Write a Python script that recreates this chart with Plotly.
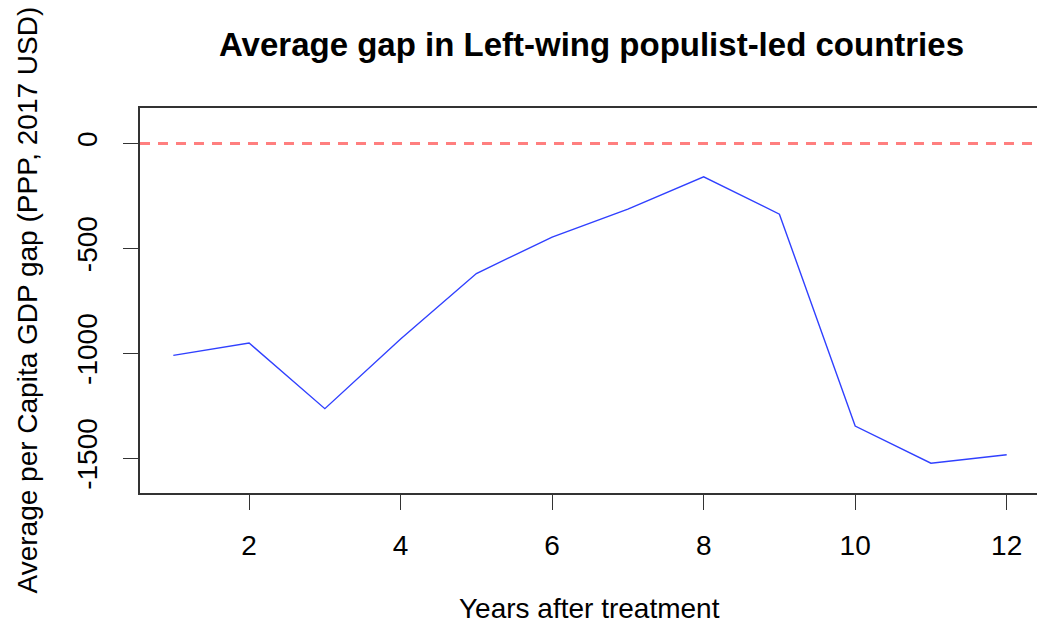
import plotly.graph_objects as go

# Average per-capita GDP gap by year after treatment
years = [1, 2, 3, 4, 5, 6, 7, 8, 9, 10, 11, 12]
avg_gap = [-1010, -951, -1264, -932, -620, -446, -313, -159, -337, -1347, -1524, -1484]

x_ticks = [2, 4, 6, 8, 10, 12]
y_ticks = [-1500, -1000, -500, 0]
y_tick_labels = ["-1500", "-1000", "-500", "0"]

FONT = "Liberation Sans, Arial, Helvetica, sans-serif"
W, H = 1037, 628
ML, MR, MT, MB = 140, 0, 108, 135
plot_w = W - ML - MR
plot_h = H - MT - MB

fig = go.Figure()

fig.add_trace(go.Scatter(
    x=years, y=avg_gap, mode="lines",
    line=dict(color="#3040ff", width=1.4),
    showlegend=False, hoverinfo="x+y",
))

# reference line at zero
fig.add_shape(
    type="line", xref="paper", yref="y", x0=0, x1=1, y0=0, y1=0,
    line=dict(color="#ff7f7f", width=3, dash="10px,8px"),
)

# axis titles
fig.add_annotation(
    text="Years after treatment", xref="paper", yref="paper",
    x=(589 - ML) / plot_w, y=(H - MB - 608) / plot_h,
    xanchor="center", yanchor="middle", showarrow=False,
    font=dict(size=28, family=FONT, color="black"),
)
fig.add_annotation(
    text="Average per Capita GDP gap (PPP, 2017 USD)", xref="paper", yref="paper",
    x=(27 - ML) / plot_w, y=0.5, textangle=-90,
    xanchor="center", yanchor="middle", showarrow=False,
    font=dict(size=28, family=FONT, color="black"),
)

fig.update_layout(
    width=W, height=H,
    margin=dict(l=ML, r=MR, t=MT, b=MB),
    paper_bgcolor="white", plot_bgcolor="white",
    font=dict(family=FONT, color="black", size=28),
    title=dict(
        text="<b>Average gap in Left-wing populist-led countries</b>",
        x=591.5 / W, xanchor="center", y=1 - 44 / H, yanchor="middle",
        font=dict(size=33, family=FONT),
    ),
)

fig.update_xaxes(
    range=[0.56, 12.40],
    tickvals=x_ticks, ticktext=[str(v) for v in x_ticks],
    showgrid=False, zeroline=False,
    showline=True, linecolor="#333333", linewidth=1.5, mirror=True,
    ticks="outside", ticklen=15, tickwidth=1.3, tickcolor="#333333",
    tickfont=dict(size=28),
    ticklabelstandoff=12,
)

fig.update_yaxes(
    range=[-1666, 169],
    tickvals=y_ticks, ticktext=y_tick_labels,
    tickangle=-90,
    showgrid=False, zeroline=False,
    showline=True, linecolor="#333333", linewidth=1.5,
    ticks="outside", ticklen=15, tickwidth=1.3, tickcolor="#333333",
    tickfont=dict(size=28),
    ticklabelstandoff=15,
)

fig.write_html("out.html")
